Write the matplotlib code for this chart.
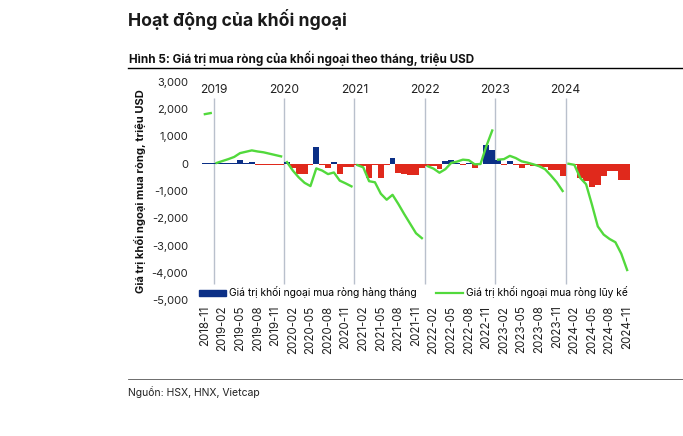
#Monthly and cumulative net foreign buying, Vietnam, 2018-11 to 2024-11
import matplotlib
matplotlib.use('Agg')
import matplotlib.pyplot as plt
from matplotlib.lines import Line2D
from matplotlib.patches import Patch

plt.rcParams['font.family'] = ['Inter', 'DejaVu Sans']

#Months shown on the chart
months = ['2018-11', '2018-12']
for yr in range(2019, 2025):
	last = 11 if yr == 2024 else 12
	for m in range(1, last + 1):
		months.append('%d-%02d' % (yr, m))

#Monthly net buying, million USD
monthly2018 = [30, 10]
monthly2019 = [20, 30, 20, 10, 130, 10, 60, -40, -50, -40, -50, -50]
monthly2020 = [60, -160, -380, -370, -60, 610, -60, -160, 50, -370, -130, -120]
monthly2021 = [-50, -80, -520, -40, -520, -40, 210, -340, -380, -400, -420, -150]
monthly2022 = [-90, -70, -180, 110, 120, 40, -60, 20, -170, -20, 680, 520]
monthly2023 = [140, -30, 110, -50, -160, -50, -80, -90, -110, -220, -240, -460]
monthly2024 = [-20, -40, -520, -620, -860, -780, -450, -260, -260, -610, -610]

#Cumulative net buying within each year, million USD
cum2018 = [1820, 1860]
cum2019 = [30, 100, 170, 250, 390, 440, 490, 450, 420, 370, 320, 270]
cum2020 = [60, -250, -500, -700, -820, -170, -250, -380, -320, -620, -720, -830]
cum2021 = [-50, -130, -640, -680, -1100, -1320, -1140, -1480, -1850, -2200, -2550, -2730]
cum2022 = [-90, -180, -330, -200, 30, 80, 150, 130, -20, -10, 650, 1220]
cum2023 = [150, 170, 290, 210, 90, 40, -20, -90, -200, -430, -680, -1000]
cum2024 = [0, -40, -520, -750, -1500, -2300, -2600, -2760, -2880, -3300, -3900]

yearLabels = ['2019', '2020', '2021', '2022', '2023', '2024']
yTicks = [3000, 2000, 1000, 0, -1000, -2000, -3000, -4000, -5000]

BLUE = '#0b2f86'
RED = '#e0291c'
GREEN = '#52d93c'
GRIDC = '#b9c0cc'

def ForeignChart():
	W, H = 683, 436
	fig = plt.figure(figsize=(W / 100, H / 100), dpi=100)
	ax = fig.add_axes([199 / W, 1 - 300 / H, 434 / W, 218 / H])

	monthly = (monthly2018 + monthly2019 + monthly2020 + monthly2021
		+ monthly2022 + monthly2023 + monthly2024)
	cums = [cum2018, cum2019, cum2020, cum2021, cum2022, cum2023, cum2024]
	xs = list(range(len(months)))

	colors = [BLUE if v >= 0 else RED for v in monthly]
	ax.bar(xs, monthly, width=1.0, color=colors, zorder=2)

	#one green line per year, the total starts again each January
	start = 0
	for c in cums:
		ax.plot(xs[start:start + len(c)], c, color=GREEN, lw=1.7, zorder=3)
		start += len(c)

	#year separators and labels
	for i, lab in enumerate(yearLabels):
		xb = 1.5 + 12 * i
		ax.vlines(xb, -4400, 2420, color=GRIDC, lw=1, zorder=1)
		ax.text(xb, 2700, lab, ha='center', va='center', fontsize=8.7, color='#222222')

	ax.set_xlim(-1, 73)
	ax.set_ylim(-5000, 3000)
	ax.set_yticks(yTicks)
	ax.set_yticklabels(['{:,}'.format(v) for v in yTicks])
	ax.set_xticks(xs[::3])
	ax.set_xticklabels(months[::3], rotation=90)
	ax.tick_params(axis='y', length=0, pad=8, labelsize=8, labelcolor='#222222')
	ax.tick_params(axis='x', length=0, pad=4, labelsize=8.3, labelcolor='#222222')
	for s in ax.spines.values():
		s.set_visible(False)

	handles = [Patch(color=BLUE), Line2D([0], [0], color=GREEN, lw=1.6)]
	names = ['Giá trị khối ngoại mua ròng hàng tháng', 'Giá trị khối ngoại mua ròng lũy kế']
	ax.legend(handles, names, loc='center left', bbox_to_anchor=(0.0, 0.035), ncol=2,
		frameon=False, fontsize=7.4, handlelength=2.6, handleheight=0.55,
		handletextpad=0.3, columnspacing=1.9, borderaxespad=0, borderpad=0)

	fig.text(140 / W, 1 - 191 / H, 'Giá trị khối ngoại mua ròng, triệu USD', rotation=90,
		ha='center', va='center', fontsize=8, fontweight='bold', color='#111111')

	fig.text(128 / W, 1 - 20 / H, 'Hoạt động của khối ngoại', fontsize=12.7,
		fontweight='bold', va='center', color='#1a1a1a')
	fig.text(129 / W, 1 - 58 / H, 'Hình 5: Giá trị mua ròng của khối ngoại theo tháng, triệu USD',
		fontsize=8.4, fontweight='bold', va='center', color='#111111')
	fig.add_artist(Line2D([128 / W, 1], [1 - 68 / H, 1 - 68 / H], color='black', lw=1))
	fig.add_artist(Line2D([128 / W, 1], [1 - 379 / H, 1 - 379 / H], color='#555555', lw=0.6))
	fig.text(128 / W, 1 - 392 / H, 'Nguồn: HSX, HNX, Vietcap', fontsize=7.5,
		va='center', color='#222222')

	fig.savefig('out.png', dpi=100)

def main():
	ForeignChart()

if __name__ == "__main__":
	main()
